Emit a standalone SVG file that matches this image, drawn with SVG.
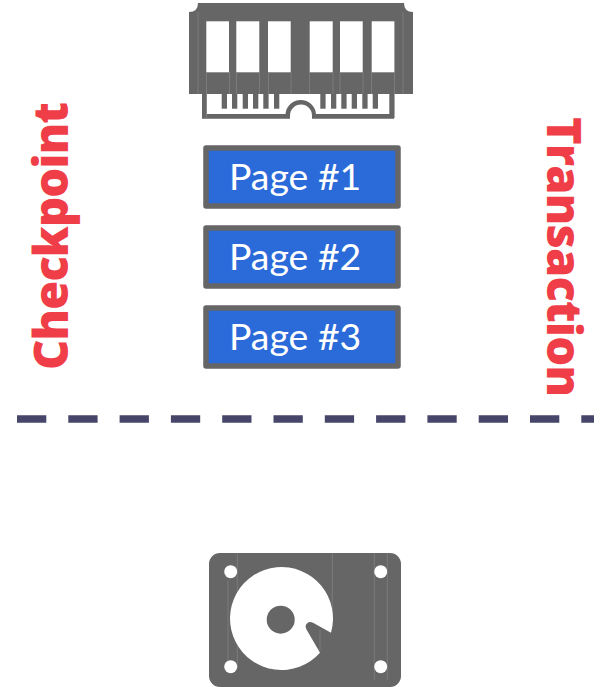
<svg xmlns="http://www.w3.org/2000/svg" width="603" height="687" viewBox="0 0 603 687">
<style>
.g{fill:#666666}
.w{fill:#ffffff}
.s{stroke:#858585;stroke-width:.7;fill:none}
.box{fill:#2b6ad9;stroke:#666666;stroke-width:5.5;stroke-linejoin:round}
.p{font-family:Lato,"Open Sans",sans-serif;font-size:37.400px;fill:#ffffff}
.r{font-family:"Open Sans","Liberation Sans",sans-serif;font-size:47px;font-weight:800;fill:#f03e48}
</style>
<g id="ram">
<path class="g" d="M198 3H404Q404 12 413 12V94H189V12Q198 12 198 3Z"/>
<rect class="w" x="206.300" y="21.300" width="22.700" height="51"/>
<rect class="w" x="236.300" y="21.300" width="23" height="51"/>
<rect class="w" x="268" y="21.300" width="22.700" height="51"/>
<rect class="w" x="309.700" y="21.300" width="23" height="51"/>
<rect class="w" x="340" y="21.300" width="22.700" height="51"/>
<rect class="w" x="371.700" y="21.300" width="22.700" height="51"/>
<path class="g" d="M202 94H206.700V114H285.500A15.300 15.300 0 0 1 316 114H389.300V94H394V118.700H312V115.500A11 11 0 0 0 290 115.500V118.700H202Z"/>
<g class="g">
<rect x="221.700" y="94" width="5.300" height="14.700"/><rect x="232" y="94" width="5.300" height="14.700"/><rect x="242.700" y="94" width="5.300" height="14.700"/><rect x="253" y="94" width="5.300" height="14.700"/><rect x="263.300" y="94" width="5.300" height="14.700"/><rect x="274" y="94" width="5.300" height="14.700"/>
<rect x="320.300" y="94" width="5.300" height="14.700"/><rect x="331" y="94" width="5.300" height="14.700"/><rect x="341.300" y="94" width="5.300" height="14.700"/><rect x="351.700" y="94" width="5.300" height="14.700"/><rect x="362.300" y="94" width="5.300" height="14.700"/><rect x="372.700" y="94" width="5.300" height="14.700"/>
</g>
<path class="s" d="M198 12V94M206.500 72V118M229.500 72V94M236.500 72V94M259.500 72V94M268.500 72V94M291 72V94M309.500 72V94M333 72V94M340 72V94M363 72V94M371.500 72V94M394.500 72V118M403 12V94"/>
</g>
<g id="page1"><rect class="box" x="206" y="148" width="192" height="58"/><text class="p" x="229" y="190">Page #1</text></g>
<g id="page2"><rect class="box" x="206" y="228" width="192" height="58"/><text class="p" x="229" y="270">Page #2</text></g>
<g id="page3"><rect class="box" x="206" y="308" width="192" height="58"/><text class="p" x="229" y="350">Page #3</text></g>
<g id="checkpoint"><text class="r" transform="translate(68 370) rotate(-90)" textLength="268">Checkpoint</text></g>
<g id="transaction"><text class="r" transform="translate(546.500 117) rotate(90)" textLength="280">Transaction</text></g>
<g id="connectors"><path d="M17 419H594" fill="none" stroke="#47466a" stroke-width="7.500" stroke-dasharray="29.300 22"/></g>
<g id="disk">
<rect class="g" x="209" y="553" width="192" height="134" rx="11"/>
<path class="s" d="M237.300 553V668M332.300 553V620M374.300 553V680M387.300 553V680M228 580V660M320 630V650"/>
<path class="w" fill-rule="evenodd" d="M331 632.700A51.500 51.500 0 1 0 320 652.700L306.500 629.500Q304.500 625.500 307 623.500Q309.500 621 313 622.800Z"/>
<circle class="g" cx="280.700" cy="619.700" r="14"/>
<circle class="w" cx="230.700" cy="571.700" r="6.500"/><circle class="w" cx="380.700" cy="571.700" r="6.500"/><circle class="w" cx="230.700" cy="666.700" r="6.500"/><circle class="w" cx="380.700" cy="666.700" r="6.500"/>
</g>
</svg>
